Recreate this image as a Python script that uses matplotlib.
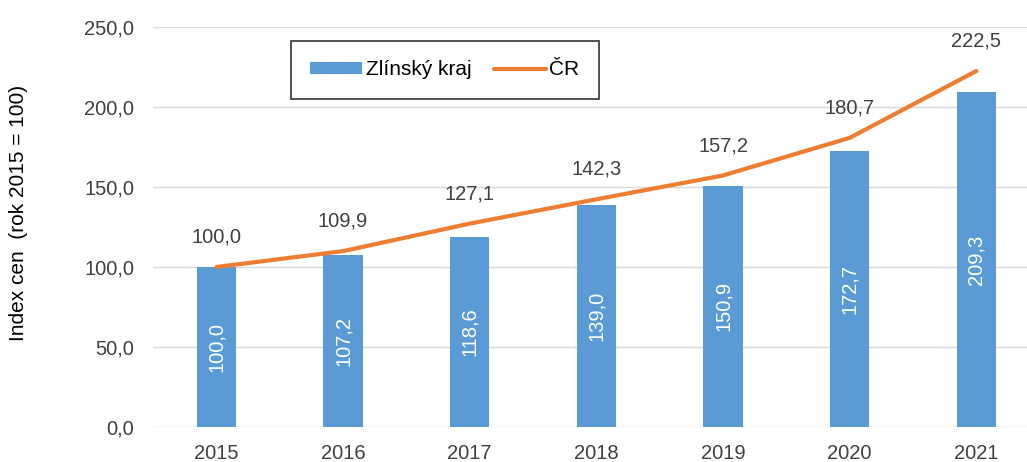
import matplotlib.pyplot as plt

plt.rcParams['font.family'] = ['Liberation Sans', 'DejaVu Sans']

years = ['2015', '2016', '2017', '2018', '2019', '2020', '2021']
zlin = [100.0, 107.2, 118.6, 139.0, 150.9, 172.7, 209.3]
cr = [100.0, 109.9, 127.1, 142.3, 157.2, 180.7, 222.5]
yticks = [0, 50, 100, 150, 200, 250]


def cz(v):
    return f"{v:.1f}".replace('.', ',')


fig = plt.figure(figsize=(10.27, 4.62), dpi=100)
ax = fig.add_axes([0.149, 0.0758, 0.851, 0.8658])

x = range(len(years))
bars = ax.bar(x, zlin, width=0.31, color='#5B9BD5', label='Zlínský kraj', zorder=2)
line, = ax.plot(x, cr, color='#ED7D31', linewidth=3, solid_capstyle='round',
                label='ČR', zorder=3)

# bar labels, white, rotated, centred in bar
for i, v in enumerate(zlin):
    ax.text(i, v / 2, cz(v), rotation=90, ha='center', va='center',
            color='white', fontsize=14.5, zorder=4)

# line labels above points
for i, v in enumerate(cr):
    ax.annotate(cz(v), (i, v), xytext=(0, 21.5), textcoords='offset points',
                ha='center', va='center', fontsize=14.5, color='#404040')

ax.set_xlim(-0.5, 6.4)
ax.set_ylim(0, 250)
ax.set_yticks(yticks)
ax.set_yticklabels([cz(v) for v in yticks], fontsize=14.5, color='#404040')
ax.set_xticks(list(x))
ax.set_xticklabels(years, fontsize=14.5, color='#404040')
ax.tick_params(axis='y', length=0, pad=13.5)
ax.tick_params(axis='x', length=0, pad=12)
ax.grid(axis='y', color='#D9D9D9', linewidth=1, zorder=0)
ax.set_axisbelow(True)
for s in ax.spines.values():
    s.set_visible(False)

ax.set_ylabel('Index cen  (rok 2015 = 100)', fontsize=15, color='black')
ax.yaxis.set_label_coords(-0.143, 0.535)

leg = ax.legend(handles=[bars, line], loc='center', bbox_to_anchor=(0.334, 0.8925),
                ncol=2, fontsize=15, frameon=True, fancybox=False,
                handlelength=2.5, handleheight=0.55, handletextpad=0.15,
                columnspacing=1.1, borderpad=0.95)
leg.get_frame().set_edgecolor('black')
leg.get_frame().set_linewidth(1.2)

fig.savefig('out.png', dpi=100)
